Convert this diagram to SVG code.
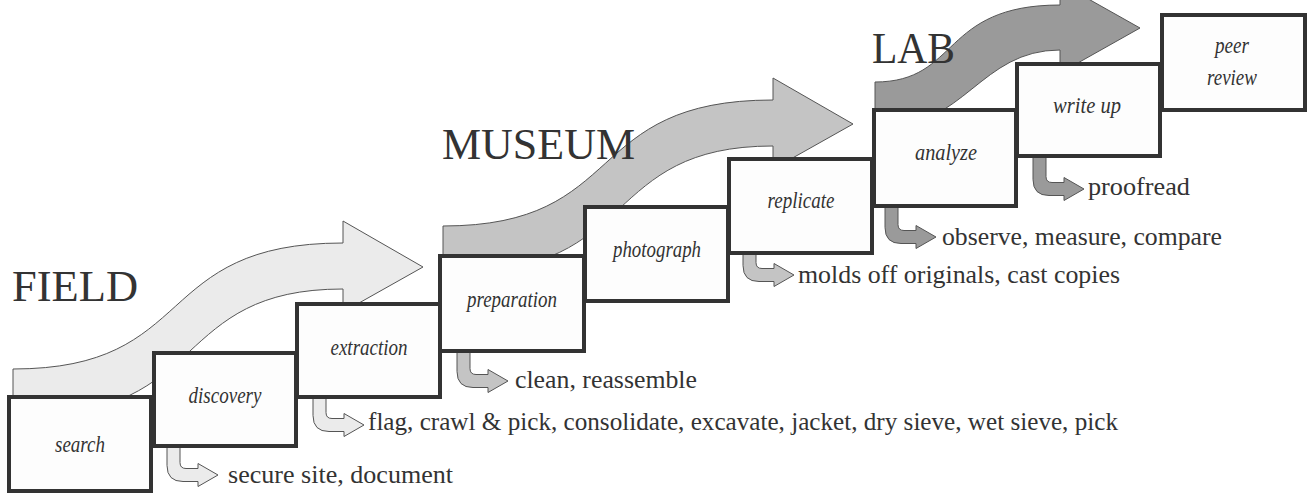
<svg xmlns="http://www.w3.org/2000/svg" width="1309" height="498" viewBox="0 0 1309 498">
<style>
.big{stroke:#555;stroke-width:1;stroke-linejoin:miter}
.f1{fill:#ebebeb}.f2{fill:#c4c4c4}.f3{fill:#9a9a9a}
.sm{stroke:#555;stroke-width:1}
.box{fill:#fdfdfd;stroke:#333;stroke-width:4}
.lbl{font-family:'Liberation Serif','DejaVu Serif',serif;font-style:italic;font-size:23px;fill:#333;text-anchor:middle}
.sub{font-family:'Liberation Serif','DejaVu Serif',serif;font-size:26px;fill:#333}
.phase{font-family:'Liberation Serif','DejaVu Serif',serif;font-size:44px;fill:#333}
</style>
<rect width="1309" height="498" fill="#fff"/>
<g id="phase-arrows">
<path id="field-arrow" class="big f1" d="M13,415 L13,369 C200,369 150,243 343,243 L343,221 L423,267 L343,312 L343,289 C170,289 210,415 28,415 Z"/>
<path id="museum-arrow" class="big f2" transform="translate(430,-143)" d="M13,415 L13,369 C200,369 150,243 343,243 L343,221 L423,267 L343,312 L343,289 C170,289 210,415 28,415 Z"/>
<path id="lab-arrow" class="big f3" d="M875,128 L875,82 C960,82 940,5 1060,5 L1060,-17 L1140,28 L1060,73 L1060,50 C980,50 965,128 880,128 Z"/>
</g>
<g id="connectors">
<path class="sm f1" d="M167,445 L167,465.5 Q167,481.5 183,481.5 L198,481.5 L198,486.5 L218,475 L198,463.5 L198,468.5 L186,468.5 Q180,468.5 180,462.5 L180,445 Z"/>
<path class="sm f1" d="M313,396 L313,415.5 Q313,431.5 329,431.5 L344,431.5 L344,436.5 L364,425 L344,413.5 L344,418.5 L332,418.5 Q326,418.5 326,412.5 L326,396 Z"/>
<path class="sm f2" d="M457,350 L457,371.5 Q457,387.5 473,387.5 L488,387.5 L488,392.5 L508,381 L488,369.5 L488,374.5 L476,374.5 Q470,374.5 470,368.5 L470,350 Z"/>
<path class="sm f2" d="M743,252 L743,265.5 Q743,281.5 759,281.5 L774,281.5 L774,286.5 L794,275 L774,263.5 L774,268.5 L762,268.5 Q756,268.5 756,262.5 L756,252 Z"/>
<path class="sm f3" d="M885,205 L885,227.5 Q885,243.5 901,243.5 L916,243.5 L916,248.5 L936,237 L916,225.5 L916,230.5 L904,230.5 Q898,230.5 898,224.5 L898,205 Z"/>
<path class="sm f3" d="M1033,155 L1033,179.5 Q1033,195.5 1049,195.5 L1064,195.5 L1064,200.5 L1084,189 L1064,177.5 L1064,182.5 L1052,182.5 Q1046,182.5 1046,176.5 L1046,155 Z"/>
</g>
<g id="search"><rect class="box" x="9" y="397" width="142" height="94"/><text class="lbl" x="80" y="452" textLength="50" lengthAdjust="spacingAndGlyphs">search</text></g>
<g id="discovery"><rect class="box" x="154" y="353" width="142" height="93"/><text class="lbl" x="225" y="403" textLength="73" lengthAdjust="spacingAndGlyphs">discovery</text></g>
<g id="extraction"><rect class="box" x="297" y="304" width="143" height="93"/><text class="lbl" x="369" y="355" textLength="77" lengthAdjust="spacingAndGlyphs">extraction</text></g>
<g id="preparation"><rect class="box" x="440" y="256" width="144" height="95"/><text class="lbl" x="512" y="307" textLength="90" lengthAdjust="spacingAndGlyphs">preparation</text></g>
<g id="photograph"><rect class="box" x="585" y="207" width="143" height="94"/><text class="lbl" x="657" y="257" textLength="88" lengthAdjust="spacingAndGlyphs">photograph</text></g>
<g id="replicate"><rect class="box" x="729" y="159" width="143" height="94"/><text class="lbl" x="801" y="208" textLength="67" lengthAdjust="spacingAndGlyphs">replicate</text></g>
<g id="analyze"><rect class="box" x="874" y="110" width="142" height="96"/><text class="lbl" x="946" y="160" textLength="62" lengthAdjust="spacingAndGlyphs">analyze</text></g>
<g id="write-up"><rect class="box" x="1017" y="64" width="143" height="92"/><text class="lbl" x="1087" y="113" textLength="68" lengthAdjust="spacingAndGlyphs">write up</text></g>
<g id="peer-review"><rect class="box" x="1162" y="15" width="143" height="95"/><text class="lbl" x="1232" y="53" textLength="34" lengthAdjust="spacingAndGlyphs">peer</text><text class="lbl" x="1232" y="85" textLength="50" lengthAdjust="spacingAndGlyphs">review</text></g>
<g id="sub-labels">
<text class="sub" x="228" y="483" textLength="225" lengthAdjust="spacingAndGlyphs">secure site, document</text>
<text class="sub" x="368" y="430" textLength="750" lengthAdjust="spacingAndGlyphs">flag, crawl &amp; pick, consolidate, excavate, jacket, dry sieve, wet sieve, pick</text>
<text class="sub" x="515" y="388" textLength="182" lengthAdjust="spacingAndGlyphs">clean, reassemble</text>
<text class="sub" x="798" y="283" textLength="322" lengthAdjust="spacingAndGlyphs">molds off originals, cast copies</text>
<text class="sub" x="942" y="245" textLength="280" lengthAdjust="spacingAndGlyphs">observe, measure, compare</text>
<text class="sub" x="1088" y="195" textLength="102" lengthAdjust="spacingAndGlyphs">proofread</text>
</g>
<g id="phase-labels">
<text class="phase" x="12" y="301" textLength="126" lengthAdjust="spacingAndGlyphs">FIELD</text>
<text class="phase" x="442" y="159" textLength="193" lengthAdjust="spacingAndGlyphs">MUSEUM</text>
<text class="phase" x="872" y="63" textLength="83" lengthAdjust="spacingAndGlyphs">LAB</text>
</g>
</svg>
